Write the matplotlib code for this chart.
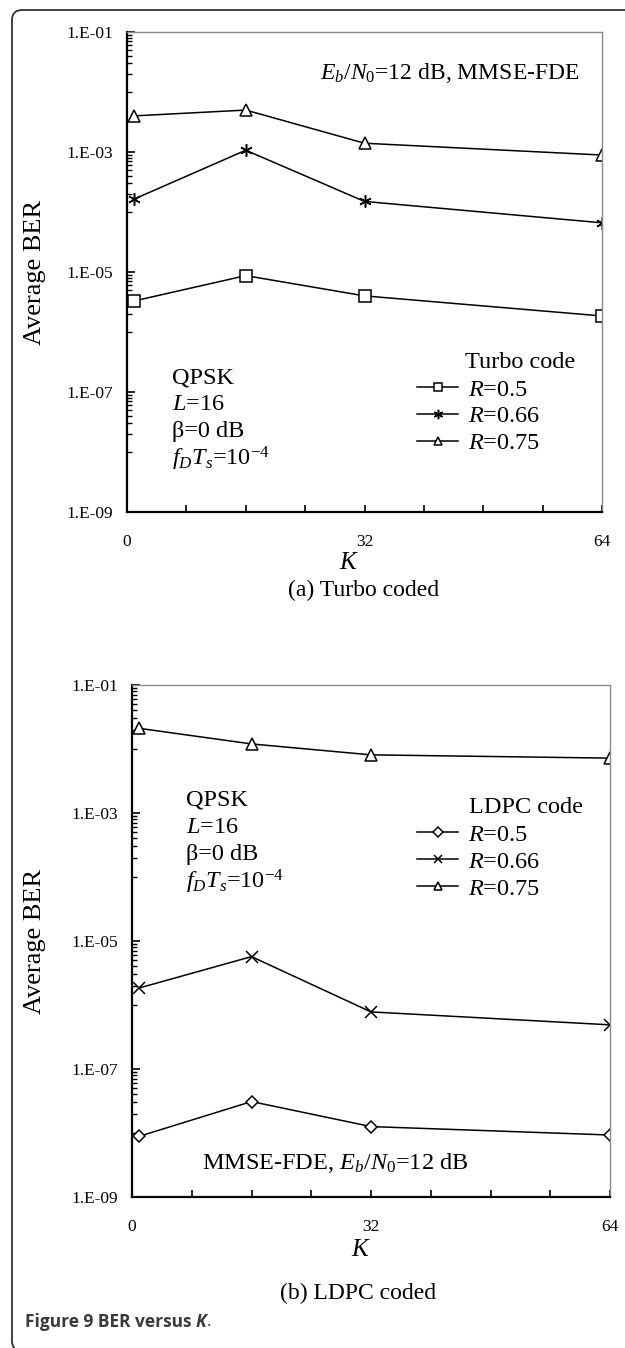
import numpy as np
import matplotlib
matplotlib.use('Agg')
import matplotlib.pyplot as plt
from matplotlib.patches import FancyBboxPatch
from matplotlib.ticker import NullFormatter
from matplotlib.transforms import IdentityTransform

plt.rcParams['font.family'] = 'Liberation Serif'
plt.rcParams['mathtext.fontset'] = 'custom'
plt.rcParams['mathtext.rm'] = 'Liberation Serif'
plt.rcParams['mathtext.it'] = 'Liberation Serif:italic'

# data
K = [1, 16, 32, 64]
turbo_r05 = [3.3e-6, 8.7e-6, 4.0e-6, 1.85e-6]
turbo_r066 = [1.65e-4, 1.07e-3, 1.5e-4, 6.6e-5]
turbo_r075 = [4.0e-3, 5.0e-3, 1.4e-3, 8.9e-4]
ldpc_r05 = [8.9e-9, 3.1e-8, 1.26e-8, 9.3e-9]
ldpc_r066 = [1.85e-6, 5.7e-6, 7.8e-7, 4.9e-7]
ldpc_r075 = [2.1e-2, 1.2e-2, 8.1e-3, 7.2e-3]
rate_labels = ['$R$=0.5', '$R$=0.66', '$R$=0.75']

x_ticks = list(range(0, 65, 8))
x_ticklabels = ['0', '', '', '', '32', '', '', '', '64']
y_major = [1e-9, 1e-7, 1e-5, 1e-3, 1e-1]
y_ticklabels = ['1.E-09', '1.E-07', '1.E-05', '1.E-03', '1.E-01']

W, H = 625, 1348
fig = plt.figure(figsize=(W / 100, H / 100), dpi=100)

ax1 = fig.add_axes([127 / W, 1 - 512 / H, 475 / W, 480 / H])
ax2 = fig.add_axes([132 / W, 1 - 1197 / H, 478 / W, 512 / H])

FS = 17.5  # annotation / legend size


def style_axes(ax):
    ax.set_yscale('log')
    ax.set_xlim(0, 64)
    ax.set_ylim(1e-9, 1e-1)
    ax.set_xticks(x_ticks)
    ax.set_xticklabels(x_ticklabels)
    ax.set_yticks(y_major)
    ax.set_yticklabels(y_ticklabels)
    minor = [k * 10.0 ** e for e in (-8, -6, -4, -2) for k in range(1, 10)]
    ax.set_yticks(minor, minor=True)
    ax.yaxis.set_minor_formatter(NullFormatter())
    ax.tick_params(axis='y', which='major', direction='in', length=6, width=1.2,
                   labelsize=12.5, pad=10)
    ax.tick_params(axis='y', which='minor', direction='in', length=3.5, width=1.0)
    ax.tick_params(axis='x', which='both', direction='in', length=5, width=1.2,
                   labelsize=12.5, pad=16)
    ax.tick_params(axis='x', which='minor', bottom=False)
    for s in ('left', 'bottom'):
        ax.spines[s].set_linewidth(1.6)
        ax.spines[s].set_color('black')
    for s in ('top', 'right'):
        ax.spines[s].set_linewidth(1.0)
        ax.spines[s].set_color('#8a8a8a')
    ax.set_ylabel('Average BER', fontsize=19)
    ax.set_xlabel('$K$', fontsize=18, va='center')


line_kw = dict(color='black', lw=1.1, mfc='white', mec='black', mew=1.1)
leg_kw = dict(loc='upper left', frameon=False, fontsize=FS, handlelength=1.7,
              handletextpad=0.4, labelspacing=0.2, borderpad=0, borderaxespad=0,
              markerscale=0.75)

# (a) Turbo coded
style_axes(ax1)
ax1.plot(K, turbo_r05, marker='s', ms=8, label=rate_labels[0], **line_kw)
ax1.plot(K, turbo_r066, marker=(6, 2, 0), ms=9, label=rate_labels[1], **line_kw)
ax1.plot(K, turbo_r075, marker='^', ms=8.5, label=rate_labels[2], **line_kw)
ax1.yaxis.set_label_coords(-0.17, 0.5)
ax1.xaxis.set_label_coords(0.467, -0.106)
ax1.text(0.954, 0.915, '$E_b/N_0$=12 dB, MMSE-FDE', transform=ax1.transAxes,
         ha='right', va='center', fontsize=17)
for i, s in enumerate(['QPSK', '$L$=16', '\u03b2=0 dB', '$f_DT_s$=10$^{-4}$']):
    ax1.text(0.095, 0.279 - i * 0.056, s, transform=ax1.transAxes,
             ha='left', va='center', fontsize=FS)
ax1.text(0.712, 0.3125, 'Turbo code', transform=ax1.transAxes,
         ha='left', va='center', fontsize=FS)
ax1.legend(bbox_to_anchor=(0.6105, 0.278), **leg_kw)

# (b) LDPC coded
style_axes(ax2)
ax2.plot(K, ldpc_r05, marker='D', ms=6.5, label=rate_labels[0], **line_kw)
ax2.plot(K, ldpc_r066, marker='x', ms=8, label=rate_labels[1], **line_kw)
ax2.plot(K, ldpc_r075, marker='^', ms=8.5, label=rate_labels[2], **line_kw)
ax2.yaxis.set_label_coords(-0.18, 0.5)
ax2.xaxis.set_label_coords(0.479, -0.1035)
ax2.text(0.4257, 0.0664, 'MMSE-FDE, $E_b/N_0$=12 dB', transform=ax2.transAxes,
         ha='center', va='center', fontsize=FS)
for i, s in enumerate(['QPSK', '$L$=16', '\u03b2=0 dB', '$f_DT_s$=10$^{-4}$']):
    ax2.text(0.113, 0.775 - i * 0.0535, s, transform=ax2.transAxes,
             ha='left', va='center', fontsize=FS)
ax2.text(0.705, 0.760, 'LDPC code', transform=ax2.transAxes,
         ha='left', va='center', fontsize=FS)
ax2.legend(bbox_to_anchor=(0.596, 0.729), **leg_kw)

# sub captions
fig.text(364 / W, 1 - 590 / H, '(a) Turbo coded', ha='center', va='center', fontsize=17)
fig.text(358 / W, 1 - 1293 / H, '(b) LDPC coded', ha='center', va='center', fontsize=17)

# rounded frame around the figure (open to the right, bottom edge cut off)
frame = FancyBboxPatch((12, -3), 800, H - 10 + 3, boxstyle='round,pad=0,rounding_size=10',
                       transform=IdentityTransform(), fill=False, ec='#333333', lw=1.3)
fig.add_artist(frame)

# caption
cap = fig.text(25 / W, 1 - 1322 / H, 'Figure 9 BER versus ', family='Open Sans',
               weight='bold', fontsize=12.5, color='#3a3a3a', va='center')
fig.canvas.draw()
bb = cap.get_window_extent()
k_txt = fig.text(bb.x1 / W, 1 - 1322 / H, 'K', family='Open Sans', weight='bold',
                 style='italic', fontsize=12.5, color='#3a3a3a', va='center')
fig.canvas.draw()
bb = k_txt.get_window_extent()
fig.text(bb.x1 / W, 1 - 1322 / H, '.', family='Open Sans', fontsize=12.5,
         color='#3a3a3a', va='center')

fig.savefig('out.png', dpi=100)
